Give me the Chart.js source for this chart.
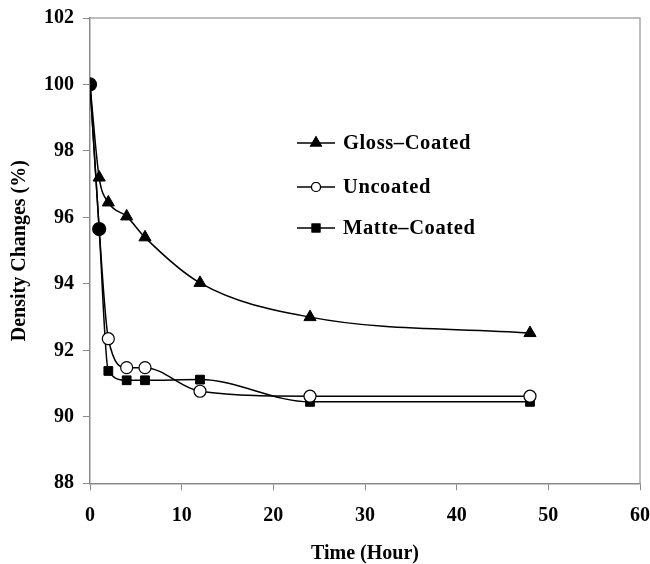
<!DOCTYPE html>
<html lang="en">
<head>
    <meta charset="UTF-8">
    <title>Density Changes</title>
    <script src="https://cdn.jsdelivr.net/npm/chart.js"></script>
    <style>
        body { margin: 0; background: #fff; }
    </style>
</head>
<body>
    <canvas id="densityChart" width="650" height="564"></canvas>

    <script>
        // Data
        const hours = [0, 1, 2, 4, 6, 12, 24, 48];
        const glossCoated = [100, 97.2, 96.45, 96.03, 95.4, 94.03, 93.0, 92.52];
        const uncoated = [100, 95.65, 92.35, 91.48, 91.48, 90.77, 90.62, 90.62];
        const matteCoated = [100, 95.65, 91.38, 91.1, 91.1, 91.12, 90.45, 90.45];
        const seriesNames = ['Gloss\u2013Coated', 'Uncoated', 'Matte\u2013Coated'];
        const xTicks = [0, 10, 20, 30, 40, 50, 60];
        const yTicks = [88, 90, 92, 94, 96, 98, 100, 102];

        const axisGray = '#8a8a8a';
        const fontFamily = '"Liberation Serif", "Times New Roman", serif';
        const tickFont = { family: fontFamily, size: 20, weight: 'bold' };

        function toPoints(values) {
            return hours.map((h, i) => ({ x: h, y: values[i] }));
        }

        // Draws the frame around the plot area (top and right sides)
        const framePlugin = {
            id: 'frame',
            afterDatasetsDraw(chart) {
                const { ctx, chartArea } = chart;
                ctx.save();
                ctx.strokeStyle = '#a8a8a8';
                ctx.lineWidth = 1.5;
                ctx.beginPath();
                ctx.moveTo(chartArea.left, chartArea.top);
                ctx.lineTo(chartArea.right, chartArea.top);
                ctx.lineTo(chartArea.right, chartArea.bottom);
                ctx.stroke();
                ctx.restore();
            }
        };

        // Legend drawn inside the plot area like the original
        const insideLegend = {
            id: 'insideLegend',
            afterDraw(chart) {
                const { ctx } = chart;
                const rows = [143, 187, 228];
                const markers = [
                    { pointStyle: 'triangle', radius: 6, backgroundColor: '#000' },
                    { pointStyle: 'circle', radius: 4.5, backgroundColor: '#fff' },
                    { pointStyle: 'rect', radius: 5.5, backgroundColor: '#000' }
                ];
                ctx.save();
                seriesNames.forEach((name, i) => {
                    const y = rows[i];
                    ctx.strokeStyle = '#000';
                    ctx.lineWidth = 1.5;
                    ctx.beginPath();
                    ctx.moveTo(297, y);
                    ctx.lineTo(335, y);
                    ctx.stroke();
                    const m = markers[i];
                    ctx.fillStyle = m.backgroundColor;
                    ctx.lineWidth = 1.2;
                    Chart.helpers.drawPoint(ctx, { pointStyle: m.pointStyle, radius: m.radius, rotation: 0, borderWidth: 1.2 }, 316, y);
                    ctx.fill();
                    ctx.stroke();
                    ctx.fillStyle = '#000';
                    ctx.font = 'bold 20.5px ' + fontFamily;
                    ctx.letterSpacing = '0.6px';
                    ctx.textBaseline = 'middle';
                    ctx.textAlign = 'left';
                    ctx.fillText(name, 343, y + 1);
                });
                ctx.restore();
            }
        };

        const ctx = document.getElementById('densityChart').getContext('2d');
        const densityChart = new Chart(ctx, {
            type: 'line',
            data: {
                datasets: [
                    {
                        label: seriesNames[0],
                        data: toPoints(glossCoated),
                        borderColor: '#000',
                        borderWidth: 1.5,
                        backgroundColor: '#000',
                        pointStyle: 'triangle',
                        pointRadius: [4, 7, 7, 7, 7, 7, 7, 7],
                        pointBorderWidth: 1,
                        cubicInterpolationMode: 'monotone',
                        order: 2
                    },
                    {
                        label: seriesNames[1],
                        data: toPoints(uncoated),
                        borderColor: '#000',
                        borderWidth: 1.5,
                        pointBackgroundColor: ['#000', '#000', '#fff', '#fff', '#fff', '#fff', '#fff', '#fff'],
                        pointBorderColor: '#000',
                        pointStyle: 'circle',
                        pointRadius: [6.5, 6.5, 6, 6, 6, 6, 6, 6],
                        pointBorderWidth: 1.2,
                        cubicInterpolationMode: 'monotone',
                        order: 0
                    },
                    {
                        label: seriesNames[2],
                        data: toPoints(matteCoated),
                        borderColor: '#000',
                        borderWidth: 1.5,
                        backgroundColor: '#000',
                        pointStyle: 'rect',
                        pointRadius: 6.2,
                        pointBorderWidth: 1,
                        cubicInterpolationMode: 'monotone',
                        order: 1
                    }
                ]
            },
            options: {
                responsive: false,
                animation: false,
                layout: { padding: { top: 18, right: 10, bottom: 0, left: 0 } },
                plugins: {
                    legend: { display: false },
                    tooltip: { enabled: false }
                },
                scales: {
                    x: {
                        type: 'linear',
                        min: 0,
                        max: 60,
                        afterBuildTicks: scale => { scale.ticks = xTicks.map(v => ({ value: v })); },
                        afterFit: scale => {
                            scale.height = 80.7;
                            scale.paddingLeft = 0;
                            scale.paddingRight = 0;
                        },
                        grid: { drawOnChartArea: false, drawTicks: true, tickLength: 7, color: axisGray },
                        border: { display: true, color: axisGray, width: 1.5 },
                        ticks: { color: '#000', font: tickFont, padding: 14, maxRotation: 0 },
                        title: {
                            display: true,
                            text: 'Time (Hour)',
                            color: '#000',
                            font: tickFont,
                            padding: { top: 0, bottom: -2 }
                        }
                    },
                    y: {
                        type: 'linear',
                        min: 88,
                        max: 102,
                        afterBuildTicks: scale => { scale.ticks = yTicks.map(v => ({ value: v })); },
                        afterFit: scale => {
                            scale.width = 90;
                            scale.paddingTop = 0;
                            scale.paddingBottom = 0;
                        },
                        grid: { drawOnChartArea: false, drawTicks: true, tickLength: 7, color: axisGray },
                        border: { display: true, color: axisGray, width: 1.5 },
                        ticks: { color: '#000', font: tickFont, padding: 9 },
                        title: {
                            display: true,
                            text: 'Density Changes (%)',
                            color: '#000',
                            font: tickFont,
                            padding: { top: 8, bottom: 0 }
                        }
                    }
                }
            },
            plugins: [framePlugin, insideLegend]
        });
    </script>
</body>
</html>
